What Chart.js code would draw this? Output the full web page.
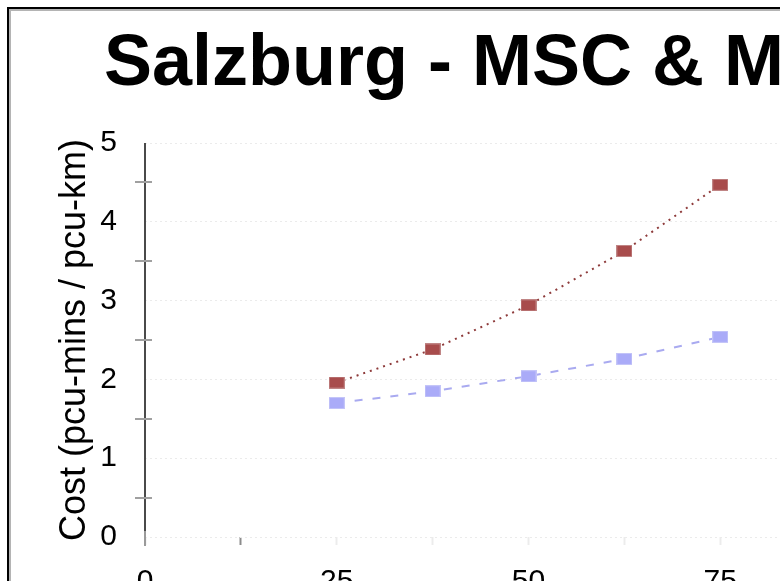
<!DOCTYPE html>
<html>
<head>
<meta charset="utf-8">
<script src="https://cdn.jsdelivr.net/npm/chart.js@4/dist/chart.umd.min.js"></script>
<style>
  html, body { margin: 0; padding: 0; background: #fff; overflow: hidden; width: 780px; height: 581px; }
  #frame {
    position: absolute; left: 7px; top: 7px; width: 1000px; height: 700px;
    border-left: 2px solid #000; border-top: 2px solid #000;
    box-shadow: inset 2px 2px 0 #b4b4b4;
  }
  #c { position: absolute; left: 0; top: 0; }
</style>
</head>
<body>
<div id="frame"><canvas id="c" width="970" height="650"></canvas></div>
<script>
// Chart text
const chartTitle = 'Salzburg - MSC & MPC';
const yAxisTitle = 'Cost (pcu-mins / pcu-km)';

// Flow levels (x) and cost series
const flowLevels = [25, 37.5, 50, 62.5, 75];
const mscValues  = [1.96, 2.38, 2.94, 3.63, 4.47];
const mpcValues  = [1.70, 1.85, 2.04, 2.26, 2.54];

// Axis settings
const xRange = [0, 100];
const xStep = 12.5;
const xLabelEvery = 25;
const yRange = [0, 5];
const yStep = 1;

const FONT = '"Liberation Sans", Arial, Helvetica, sans-serif';
Chart.defaults.font.family = FONT;
Chart.defaults.color = '#000';

function makeMarker(fill, edge) {
  const c = document.createElement('canvas');
  c.width = 16; c.height = 12;
  const g = c.getContext('2d');
  g.fillStyle = edge; g.fillRect(0, 0, 16, 12);
  g.fillStyle = fill; g.fillRect(1, 1, 14, 10);
  return c;
}

const toPoints = ys => flowLevels.map((x, i) => ({ x, y: ys[i] }));

// Title drawn across the top of the canvas
const titlePlugin = {
  id: 'bigTitle',
  afterDraw(chart) {
    const ctx = chart.ctx;
    ctx.save();
    ctx.font = 'bold 72px ' + FONT;
    ctx.fillStyle = '#000';
    ctx.textAlign = 'center';
    ctx.textBaseline = 'alphabetic';
    ctx.fillText(chartTitle, chart.width / 2, 76);
    ctx.restore();
  }
};

// Vertical axis line with tick marks crossing it midway between labels
const axisPlugin = {
  id: 'crossAxis',
  afterDatasetsDraw(chart) {
    const { ctx, chartArea } = chart;
    const y = chart.scales.y;
    const x0 = chartArea.left;
    ctx.save();
    ctx.strokeStyle = '#9a9a9a';
    ctx.lineWidth = 2;
    ctx.beginPath();
    ctx.moveTo(x0, chartArea.bottom - 6);
    ctx.lineTo(x0, chartArea.bottom + 9);
    ctx.stroke();
    ctx.strokeStyle = '#4a4a4a';
    ctx.beginPath();
    ctx.moveTo(x0, chartArea.top);
    ctx.lineTo(x0, chartArea.bottom - 6);
    ctx.stroke();
    ctx.strokeStyle = '#a0a0a0';
    ctx.lineWidth = 2;
    for (let v = yRange[0] + yStep / 2; v < yRange[1]; v += yStep) {
      const py = Math.round(y.getPixelForValue(v));
      ctx.beginPath();
      ctx.moveTo(x0 - 10, py);
      ctx.lineTo(x0 + 7, py);
      ctx.stroke();
    }
    ctx.restore();
  }
};

new Chart(document.getElementById('c'), {
  type: 'line',
  data: {
    datasets: [
      {
        label: 'MSC',
        data: toPoints(mscValues),
        borderColor: '#8e3b3b',
        borderWidth: 2,
        borderDash: [2, 5],
        pointStyle: makeMarker('#a84c4c', '#c08585'),
        pointRadius: 8,
        tension: 0,
        fill: false
      },
      {
        label: 'MPC',
        data: toPoints(mpcValues),
        borderColor: '#a9aaf0',
        borderWidth: 2,
        borderDash: [8, 10],
        pointStyle: makeMarker('#aaabf8', '#c4c5f8'),
        pointRadius: 8,
        tension: 0,
        fill: false
      }
    ]
  },
  options: {
    responsive: false,
    animation: false,
    devicePixelRatio: 1,
    layout: { padding: { left: 0, top: 134, right: 67, bottom: 42 } },
    plugins: {
      legend: { display: false },
      tooltip: { enabled: false },
      title: { display: false }
    },
    scales: {
      x: {
        type: 'linear',
        min: xRange[0],
        max: xRange[1],
        afterFit: s => { s.height = 80; },
        border: { display: false },
        grid: {
          display: true,
          drawOnChartArea: false,
          drawTicks: true,
          tickLength: 8,
          tickWidth: 2,
          tickColor: c => (c.tick && c.tick.value === xStep) ? '#8c8c8c' : '#ececec'
        },
        ticks: {
          stepSize: xStep,
          autoSkip: false,
          maxRotation: 0,
          padding: 19,
          color: '#000',
          font: { size: 30 },
          callback: v => (v % xLabelEvery === 0 ? String(v) : '')
        }
      },
      y: {
        min: yRange[0],
        max: yRange[1],
        afterFit: s => { s.width = 136; },
        border: { display: false, dash: [2, 3] },
        grid: {
          display: true,
          drawTicks: false,
          color: '#ebebeb',
          lineWidth: 1
        },
        ticks: {
          stepSize: yStep,
          padding: 28,
          color: '#000',
          font: { size: 30 }
        },
        title: {
          display: true,
          text: yAxisTitle,
          color: '#000',
          font: { size: 36 },
          padding: { top: 44, bottom: 0 }
        }
      }
    }
  },
  plugins: [titlePlugin, axisPlugin]
});
</script>
</body>
</html>
